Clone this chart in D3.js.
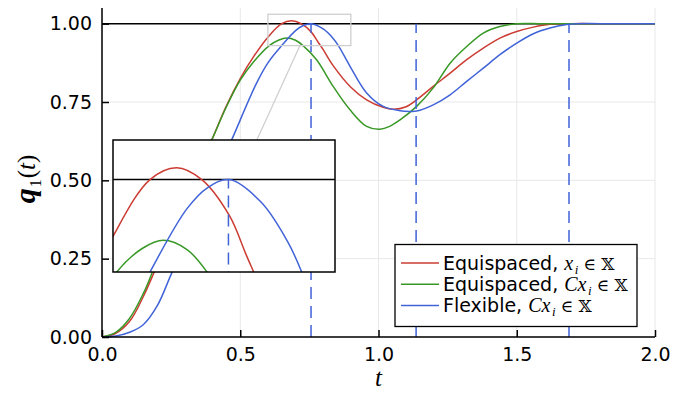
<!DOCTYPE html>
<html>
<head>
<meta charset="utf-8">
<script src="https://cdn.jsdelivr.net/npm/d3@7"></script>
<style>
  body { margin: 0; background: #fff; }
  svg { display: block; }
  text { font-family: "DejaVu Sans", sans-serif; }
  .math { font-family: "Liberation Serif", "DejaVu Serif", serif; font-style: italic; }
</style>
</head>
<body>
<div id="chart"></div>
<script>
// ---- data ----
const redT   = [0, 0.05, 0.1, 0.15, 0.2, 0.3, 0.4, 0.45, 0.5, 0.55, 0.6, 0.65, 0.686, 0.72, 0.757, 0.78, 0.8, 0.836, 0.9, 0.957, 1.017, 1.054, 1.1, 1.138, 1.198, 1.259, 1.319, 1.379, 1.439, 1.5, 1.56, 1.62, 1.7, 1.8, 2.0];
const redV   = [0, 0.012, 0.05, 0.13, 0.23, 0.43, 0.635, 0.738, 0.825, 0.897, 0.957, 1.0, 1.009, 1.0, 0.973, 0.943, 0.917, 0.866, 0.797, 0.757, 0.733, 0.727, 0.735, 0.757, 0.8, 0.842, 0.885, 0.922, 0.954, 0.975, 0.989, 0.998, 1.0, 1.0, 1.0];

const greenT = [0, 0.05, 0.1, 0.15, 0.2, 0.3, 0.4, 0.45, 0.5, 0.55, 0.605, 0.64, 0.668, 0.7, 0.727, 0.776, 0.836, 0.897, 0.957, 1.005, 1.04, 1.078, 1.138, 1.198, 1.259, 1.319, 1.379, 1.439, 1.5, 1.6, 2.0];
const greenV = [0, 0.015, 0.06, 0.14, 0.245, 0.44, 0.635, 0.735, 0.82, 0.88, 0.93, 0.948, 0.954, 0.947, 0.93, 0.885, 0.8, 0.725, 0.672, 0.663, 0.672, 0.693, 0.736, 0.795, 0.874, 0.927, 0.97, 0.991, 1.0, 1.0, 1.0];

const blueT  = [0, 0.05, 0.1, 0.15, 0.2, 0.25, 0.3, 0.35, 0.4, 0.469, 0.559, 0.6, 0.65, 0.7, 0.728, 0.757, 0.8, 0.836, 0.855, 0.897, 0.957, 1.017, 1.078, 1.114, 1.138, 1.198, 1.259, 1.319, 1.379, 1.439, 1.5, 1.56, 1.62, 1.68, 1.72, 1.8, 2.0];
const blueV  = [0, 0.003, 0.015, 0.04, 0.1, 0.2, 0.3, 0.4, 0.49, 0.629, 0.81, 0.875, 0.93, 0.978, 0.994, 1.0, 0.983, 0.953, 0.93, 0.864, 0.779, 0.736, 0.722, 0.72, 0.721, 0.741, 0.773, 0.816, 0.858, 0.901, 0.938, 0.968, 0.986, 0.997, 1.0, 1.0, 1.0];

const vlines = [0.756, 1.136, 1.689];   // blue dashed switching times
const xTicks = [0, 0.5, 1.0, 1.5, 2.0];
const yTicks = [0, 0.25, 0.5, 0.75, 1.0];
const lensX = [0.6, 0.9];
const lensY = [0.93, 1.03];
const lensLine = [[0.716, 0.93], [0.54, 0.59]];

const series = [
  {name: "Equispaced, ", math: "x", sub: "i", t: redT,   v: redV,   color: "#cb3c33"},
  {name: "Equispaced, ", math: "Cx", sub: "i", t: greenT, v: greenV, color: "#389826"},
  {name: "Flexible, ",   math: "Cx", sub: "i", t: blueT,  v: blueV,  color: "#4063d8"}
];

const W = 694, H = 393;
const svg = d3.select("#chart").append("svg").attr("width", W).attr("height", H);

const x = d3.scaleLinear().domain([0, 2]).range([102, 655]);
const y = d3.scaleLinear().domain([0, 1.05]).range([337, 8]);

// grid
svg.append("g").selectAll("line").data(xTicks).enter().append("line")
  .attr("x1", d => x(d)).attr("x2", d => x(d)).attr("y1", y(0)).attr("y2", y(1.05))
  .attr("stroke", "#e8e8e8").attr("stroke-width", 1);
svg.append("g").selectAll("line").data(yTicks).enter().append("line")
  .attr("x1", x(0)).attr("x2", x(2)).attr("y1", d => y(d)).attr("y2", d => y(d))
  .attr("stroke", "#e8e8e8").attr("stroke-width", 1);

// lens connector
svg.append("line")
  .attr("x1", x(lensLine[0][0])).attr("y1", y(lensLine[0][1]))
  .attr("x2", x(lensLine[1][0])).attr("y2", y(lensLine[1][1]))
  .attr("stroke", "#cfcfcf").attr("stroke-width", 1.3);

const drawPlot = (g, xs, ys) => {
  g.append("line").attr("x1", xs.range()[0]).attr("x2", xs.range()[1])
    .attr("y1", ys(1)).attr("y2", ys(1)).attr("stroke", "#000").attr("stroke-width", 1.5);
  const line = d3.line().x(d => xs(d[0])).y(d => ys(d[1])).curve(d3.curveCatmullRom.alpha(0.5));
  series.forEach(s => {
    g.append("path").datum(s.t.map((t, i) => [t, s.v[i]]))
      .attr("d", line).attr("fill", "none").attr("stroke", s.color).attr("stroke-width", 1.5);
  });
  g.selectAll(".vl").data(vlines).enter().append("line")
    .attr("x1", d => xs(d)).attr("x2", d => xs(d)).attr("y1", ys(0)).attr("y2", ys(1))
    .attr("stroke", "#4063d8").attr("stroke-width", 1.5).attr("stroke-dasharray", "12,7");
};

drawPlot(svg.append("g"), x, y);

svg.append("rect")
  .attr("x", x(lensX[0])).attr("y", y(lensY[1]))
  .attr("width", x(lensX[1]) - x(lensX[0])).attr("height", y(lensY[0]) - y(lensY[1]))
  .attr("fill", "none").attr("stroke", "#cfcfcf").attr("stroke-width", 1.3);

// axes (left and bottom spines, inward ticks)
const xAxis = d3.axisBottom(x).tickValues(xTicks).tickFormat(d3.format(".1f")).tickSize(-7).tickPadding(11);
const yAxis = d3.axisLeft(y).tickValues(yTicks).tickFormat(d3.format(".2f")).tickSize(-7).tickPadding(10);
const gx = svg.append("g").attr("transform", `translate(0,${y(0)})`).call(xAxis);
const gy = svg.append("g").attr("transform", `translate(${x(0)},0)`).call(yAxis);
[gx, gy].forEach(g => {
  g.select(".domain").remove();
  g.selectAll(".tick line").attr("stroke", "#000").attr("stroke-width", 1.5);
  g.selectAll(".tick text").attr("font-size", 19).attr("fill", "#000")
    .attr("font-family", "DejaVu Sans");
});
gx.selectAll(".tick text").attr("dy", "0.71em");
svg.append("line").attr("x1", x(0)).attr("x2", x(2)).attr("y1", y(0)).attr("y2", y(0))
  .attr("stroke", "#000").attr("stroke-width", 1.5);
svg.append("line").attr("x1", x(0)).attr("x2", x(0)).attr("y1", y(0)).attr("y2", y(1.05))
  .attr("stroke", "#000").attr("stroke-width", 1.5);

// axis labels
svg.append("text").attr("class", "math").attr("x", x(1)).attr("y", 386)
  .attr("text-anchor", "middle").attr("font-size", 25).text("t");
const yl = svg.append("text").attr("transform", "translate(35,179) rotate(-90)")
  .attr("text-anchor", "middle").attr("class", "math");
yl.append("tspan").attr("font-size", 30).attr("font-weight", "bold").text("q");
yl.append("tspan").attr("font-size", 16).attr("font-style", "normal").attr("dx", 1).attr("dy", 6).text("1");
yl.append("tspan").attr("font-size", 25).attr("font-style", "normal").attr("dx", 1).attr("dy", -6).text("(");
yl.append("tspan").attr("font-size", 25).text("t");
yl.append("tspan").attr("font-size", 25).attr("font-style", "normal").text(")");

// inset
const ix = d3.scaleLinear().domain(lensX).range([113, 335]);
const iy = d3.scaleLinear().domain(lensY).range([272, 140]);
svg.append("clipPath").attr("id", "inclip").append("rect")
  .attr("x", 113).attr("y", 140).attr("width", 222).attr("height", 132);
svg.append("rect").attr("x", 113).attr("y", 140).attr("width", 222).attr("height", 132).attr("fill", "#fff");
drawPlot(svg.append("g").attr("clip-path", "url(#inclip)"), ix, iy);
svg.append("rect").attr("x", 113).attr("y", 140).attr("width", 222).attr("height", 132)
  .attr("fill", "none").attr("stroke", "#000").attr("stroke-width", 1.5);

// legend
const lg = svg.append("g");
lg.append("rect").attr("x", 395).attr("y", 244.5).attr("width", 242).attr("height", 82)
  .attr("fill", "#fff").attr("stroke", "#000").attr("stroke-width", 1.3);
series.forEach((s, i) => {
  const yy = 263 + i * 21.2;
  lg.append("line").attr("x1", 401).attr("x2", 439).attr("y1", yy).attr("y2", yy)
    .attr("stroke", s.color).attr("stroke-width", 1.5);
  const t = lg.append("text").attr("x", 443).attr("y", yy + 6.5).attr("font-size", 19);
  t.append("tspan").text(s.name);
  t.append("tspan").attr("class", "math").attr("font-size", 20).text(s.math);
  t.append("tspan").attr("class", "math").attr("font-size", 13).attr("dx", 1.5).attr("dy", 4).text(s.sub);
  t.append("tspan").attr("font-family", "DejaVu Serif").attr("font-size", 17).attr("dx", 5).attr("dy", -4).text("∈ 𝕏");
});
</script>
</body>
</html>
